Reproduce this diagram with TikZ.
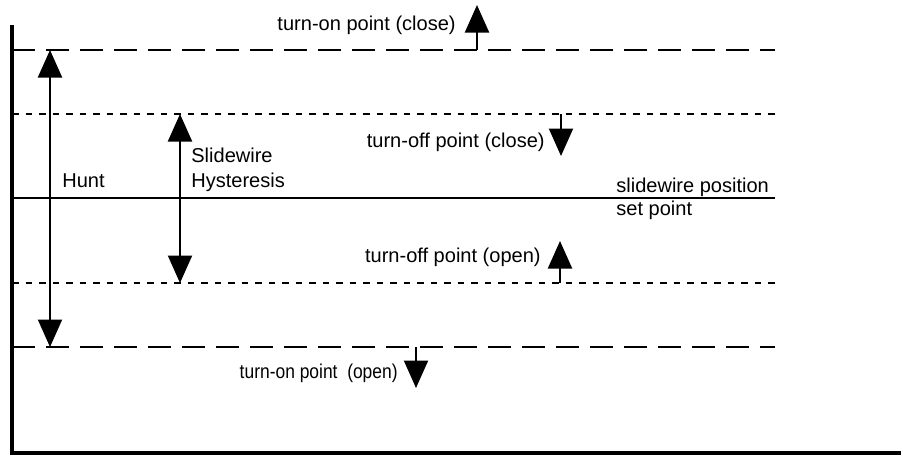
\documentclass[tikz,border=0pt]{standalone}
\usepackage{fontspec}
\setmainfont{Liberation Sans}
\usetikzlibrary{arrows.meta}
\definecolor{hyline}{HTML}{000000}
\tikzset{
  every picture/.style={line join=miter},
  axis/.style={draw=hyline, line width=2.5pt},
  onlevel/.style={draw=hyline, line width=1.3pt, dash pattern=on 4.5mm off 2.3mm},
  offlevel/.style={draw=hyline, line width=1.3pt, dash pattern=on 1.3mm off 1.4mm},
  setlevel/.style={draw=hyline, line width=1.2pt},
  span/.style={{Triangle[length=5.5mm, width=4.8mm]}-{Triangle[length=5.5mm, width=4.8mm]},
    draw=hyline, line width=1.2pt},
  move/.style={-{Triangle[length=5.5mm, width=4.8mm]}, draw=hyline, line width=1.2pt},
  lbl/.style={font=\fontsize{11.4}{13.5}\selectfont, inner sep=0pt},
}

\begin{document}
\begin{tikzpicture}[x=0.2mm, y=-0.2mm]
\useasboundingbox (0,0) rectangle (901,455);

% ---- Frame
\coordinate (top)    at (12, 25);
\coordinate (origin) at (12, 453);
\coordinate (right)  at (901, 453);
\draw[axis] (top) -- (origin) -- (right);

% ---- Levels
\coordinate (onc-l)  at (12, 50);   \coordinate (onc-r)  at (775, 50);
\coordinate (offc-l) at (12, 114);  \coordinate (offc-r) at (775, 114);
\coordinate (set-l)  at (12, 198);  \coordinate (set-r)  at (775, 198);
\coordinate (offo-l) at (12, 283);  \coordinate (offo-r) at (775, 283);
\coordinate (ono-l)  at (12, 347);  \coordinate (ono-r)  at (775, 347);

\draw[onlevel]  (onc-l) -- (onc-r);
\draw[offlevel] (offc-l) -- (offc-r);
\draw[setlevel] (set-l) -- (set-r);
\draw[offlevel] (offo-l) -- (offo-r);
\draw[onlevel]  (ono-l) -- (ono-r);

% ---- Hunt and slidewire hysteresis bands
\coordinate (hunt-t) at (50, 50);   \coordinate (hunt-b) at (50, 347);
\coordinate (hyst-t) at (180, 114); \coordinate (hyst-b) at (180, 283);
\draw[span] (hunt-b) -- (hunt-t);
\draw[span] (hyst-b) -- (hyst-t);
\node[lbl, anchor=base west] (hunt) at (62, 187) {Hunt};
\node[lbl, anchor=base west] (hyst1) at (191, 162) {Slidewire};
\node[lbl, anchor=base west] (hyst2) at (191, 187) {Hysteresis};

\node[lbl, anchor=base west] (pos) at (616, 192) {slidewire position};
\node[lbl, anchor=base west] (setp) at (616, 215) {set point};

% ---- Switching points
\coordinate (onc-a)  at (477, 50);  \coordinate (onc-e)  at (477, 5);
\coordinate (offc-a) at (561, 114); \coordinate (offc-e) at (561, 156);
\coordinate (offo-a) at (560, 283); \coordinate (offo-e) at (560, 241);
\coordinate (ono-a)  at (416, 347); \coordinate (ono-e)  at (416, 388);
\draw[move] (onc-a) -- (onc-e);
\draw[move] (offc-a) -- (offc-e);
\draw[move] (offo-a) -- (offo-e);
\draw[move] (ono-a) -- (ono-e);

\node[lbl, anchor=base east] (onc)  at (456, 30)  {turn-on point (close)};
\node[lbl, anchor=base east] (offc) at (545, 147) {turn-off point (close)};
\node[lbl, anchor=base east] (offo) at (541, 262) {turn-off point (open)};
\node[lbl, anchor=base east] (ono)  at (398, 378)
  {\scalebox{0.87}[1]{turn-on point\ \ (open)}};

\end{tikzpicture}
\end{document}
